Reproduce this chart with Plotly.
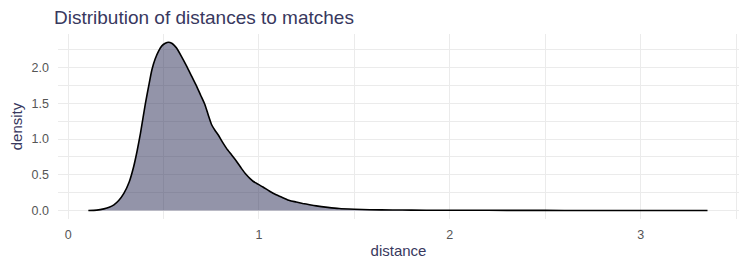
import plotly.graph_objects as go

# Density curve values
distance = [0.106, 0.15, 0.1875, 0.215, 0.24, 0.265, 0.292, 0.32, 0.344, 0.362, 0.379, 0.392, 0.405,
            0.422, 0.439, 0.456, 0.474, 0.49, 0.509, 0.526, 0.543, 0.556, 0.569, 0.595, 0.621,
            0.647, 0.673, 0.695, 0.717, 0.735, 0.752, 0.77, 0.786, 0.808, 0.830, 0.856, 0.882,
            0.908, 0.934, 0.952, 0.969, 0.995, 1.021, 1.056, 1.090, 1.125, 1.160, 1.195, 1.229,
            1.265, 1.30, 1.36, 1.42, 1.50, 1.58, 1.70, 1.80, 1.95, 2.10, 2.30, 2.50, 2.70,
            2.90, 3.10, 3.35]
density = [0.0, 0.006, 0.024, 0.045, 0.08, 0.14, 0.24, 0.40, 0.62, 0.84, 1.08, 1.29, 1.50,
           1.74, 1.97, 2.12, 2.23, 2.30, 2.34, 2.355, 2.34, 2.31, 2.27, 2.15, 2.02,
           1.88, 1.74, 1.61, 1.48, 1.33, 1.20, 1.12, 1.06, 0.96, 0.87, 0.78, 0.69,
           0.59, 0.50, 0.45, 0.41, 0.37, 0.33, 0.27, 0.22, 0.18, 0.14, 0.12, 0.10,
           0.082, 0.066, 0.045, 0.028, 0.018, 0.012, 0.008, 0.006, 0.005, 0.004, 0.003, 0.002, 0.0015,
           0.001, 0.0008, 0.0005]

title_text = "Distribution of distances to matches"
x_label = "distance"
y_label = "density"

navy = "#38385e"
grid = "#ebebeb"

# the page body has an 8px default margin; size the figure to compensate
W, H, OFF = 747, 267, 8

fig = go.Figure()
fig.add_trace(go.Scatter(
    x=distance, y=density, mode="lines",
    line=dict(color="black", width=1.6, shape="spline", smoothing=0.6),
    fill="tozeroy", fillcolor="rgba(40,42,84,0.5)",
    hoverinfo="skip", showlegend=False,
))

fig.update_layout(
    width=W - OFF, height=H - OFF, autosize=False,
    margin=dict(l=54 - OFF, r=8, t=34 - OFF, b=48),
    paper_bgcolor="white", plot_bgcolor="white",
    font=dict(family="Liberation Sans, Arial, sans-serif"),
    title=dict(text=title_text, x=(54 - OFF) / (W - OFF), xanchor="left", xref="container",
               y=1 - 9.5 / (H - OFF), yanchor="middle", yref="container",
               font=dict(size=19, color=navy)),
)
fig.update_xaxes(
    range=[-0.053, 3.515], dtick=1, tick0=0, tickformat="d",
    showgrid=True, gridcolor=grid, gridwidth=1.1, zeroline=False, showline=False,
    tickfont=dict(size=12.5, color="#555555"), ticks="", ticklabelstandoff=6,
    minor=dict(dtick=0.5, tick0=0, showgrid=True, gridcolor=grid, gridwidth=0.6),
    title=dict(text=x_label, font=dict(size=15, color=navy), standoff=4),
)
fig.update_yaxes(
    range=[-0.118, 2.47], dtick=0.5, tick0=0, tickformat=".1f",
    showgrid=True, gridcolor=grid, gridwidth=1.1, zeroline=False, showline=False,
    tickfont=dict(size=12.5, color="#555555"), ticks="", ticklabelstandoff=8,
    minor=dict(dtick=0.25, tick0=0, showgrid=True, gridcolor=grid, gridwidth=0.6),
    title=dict(text=y_label, font=dict(size=15, color=navy), standoff=5),
)

fig.write_html("out.html")
